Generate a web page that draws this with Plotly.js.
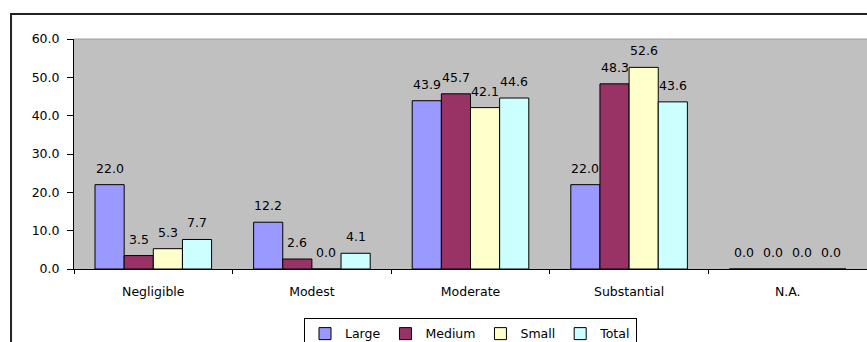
<!DOCTYPE html>
<html>
<head>
<meta charset="utf-8">
<script src="https://cdn.plot.ly/plotly-3.0.1.min.js"></script>
<style>html,body{margin:0;padding:0;background:#fff;overflow:hidden;}#chart{width:867px;height:342px;}</style>
</head>
<body>
<div id="chart"></div>
<script>
const categories = ["Negligible", "Modest", "Moderate", "Substantial", "N.A."];
const large  = [22.0, 12.2, 43.9, 22.0, 0.0];
const medium = [3.5, 2.6, 45.7, 48.3, 0.0];
const small  = [5.3, 0.0, 42.1, 52.6, 0.0];
const total  = [7.7, 4.1, 44.6, 43.6, 0.0];
const seriesNames = ["Large", "Medium", "Small", "Total"];
const seriesColors = ["#9999FF", "#993366", "#FFFFCC", "#CCFFFF"];
const seriesValues = [large, medium, small, total];
const yTicks = [0, 10, 20, 30, 40, 50, 60];

const font = {family: "'DejaVu Sans', Verdana, sans-serif", size: 12.5, color: "#000"};

const W = 867, H = 342;
const margin = {l: 74, r: 0, t: 39, b: 73, autoexpand: false};
const bargap = 0.265;
const plotW = W - margin.l - margin.r;
const barPx = plotW / categories.length * (1 - bargap) / seriesNames.length;

const traces = seriesValues.map((vals, i) => ({
  type: "bar",
  name: seriesNames[i],
  x: categories,
  y: vals,
  marker: {color: seriesColors[i], line: {color: "#000", width: 1}},
  hoverinfo: "none"
}));

const annotations = [];
seriesValues.forEach((vals, i) => {
  vals.forEach((v, j) => {
    annotations.push({
      x: categories[j], y: v, xref: "x", yref: "y",
      text: v.toFixed(1), showarrow: false,
      xanchor: "center", yanchor: "bottom",
      xshift: (i - (seriesNames.length - 1) / 2) * barPx,
      yshift: 7,
      font: font
    });
  });
});

const layout = {
  width: W, height: H,
  margin: margin,
  paper_bgcolor: "#fff",
  plot_bgcolor: "#C0C0C0",
  font: font,
  barmode: "group",
  bargap: bargap,
  bargroupgap: 0,
  showlegend: true,
  legend: {
    orientation: "h", x: 0.5, xanchor: "center", y: -0.213, yanchor: "top",
    bordercolor: "#000", borderwidth: 1, bgcolor: "#fff",
    font: font, itemwidth: 30, tracegroupgap: 0
  },
  xaxis: {
    type: "category",
    tickson: "boundaries",
    ticks: "outside", ticklen: 4, tickcolor: "#000",
    ticklabelstandoff: 11,
    showline: true, linecolor: "#000", linewidth: 1,
    showgrid: false, zeroline: false, automargin: false,
    tickfont: font, fixedrange: true
  },
  yaxis: {
    range: [0, 60],
    tickvals: yTicks,
    tickformat: ".1f",
    ticks: "outside", ticklen: 6, tickcolor: "#000",
    ticklabelstandoff: 5,
    showline: true, linecolor: "#000", linewidth: 1,
    showgrid: false, zeroline: false, automargin: false,
    tickfont: font, fixedrange: true
  },
  annotations: annotations,
  shapes: [
    {type: "rect", xref: "paper", yref: "paper", x0: -0.0794, x1: 1.2, y0: -0.6, y1: 1.1087,
     line: {color: "#222", width: 2}, fillcolor: "rgba(0,0,0,0)", layer: "below"},
    {type: "line", xref: "paper", yref: "paper", x0: 0, x1: 1, y0: 1, y1: 1,
     line: {color: "#9a9a9a", width: 1}}
  ]
};

Plotly.newPlot("chart", traces, layout, {staticPlot: true, displayModeBar: false});
</script>
</body>
</html>
